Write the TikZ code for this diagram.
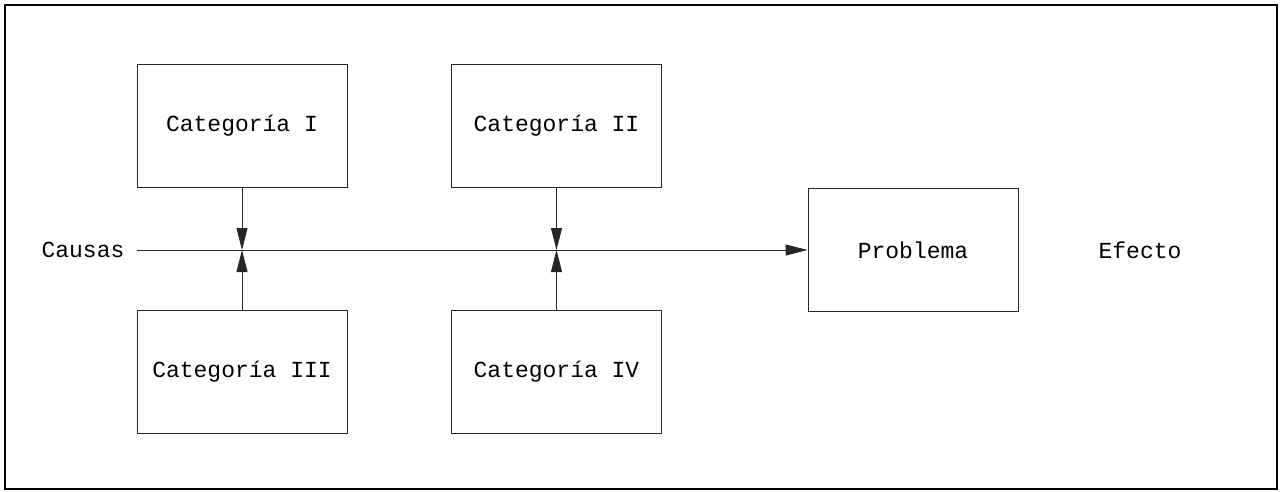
\documentclass[tikz,border=0pt]{standalone}
\usepackage{fontspec}
\setmonofont{Liberation Mono}
\usetikzlibrary{arrows.meta}
\begin{document}
\begin{tikzpicture}[x=1pt,y=-1pt,
  box/.style={draw=black!85,line width=0.9pt,minimum width=210pt,minimum height=123pt,inner sep=0pt,font=\ttfamily\fontsize{23}{27}\selectfont},
  lbl/.style={font=\ttfamily\fontsize{23}{27}\selectfont,inner sep=0pt},
  arr/.style={draw=black!85,line width=0.9pt,-{Triangle[length=22pt,width=11pt]}}]
\useasboundingbox (0,0) rectangle (1280,491);
\draw[line width=2pt] (5,5) rectangle (1277,489);
\node[box] (c1) at (242,125.5) {Categoría I};
\node[box] (c2) at (556.5,125.5) {Categoría II};
\node[box] (c3) at (242,372) {Categoría III};
\node[box] (c4) at (556.5,372) {Categoría IV};
\node[box] (p) at (913,250) {Problema};
\node[lbl] (causas) at (83,250) {Causas};
\node[lbl] (efecto) at (1140,250) {Efecto};
\coordinate (s) at (137,250);
\draw[arr] (s) -- (p.west);
\draw[arr] (c1.south) -- (c1.south |- s);
\draw[arr] (c3.north) -- (c3.north |- s);
\draw[arr] (c2.south) -- (c2.south |- s);
\draw[arr] (c4.north) -- (c4.north |- s);
\end{tikzpicture}
\end{document}
